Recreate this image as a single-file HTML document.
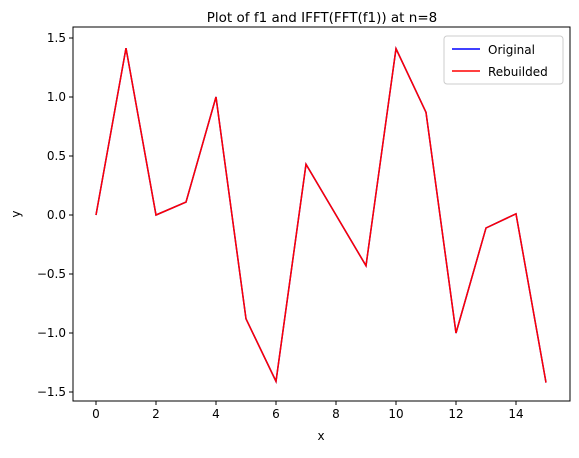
<!DOCTYPE html>
<html><head><meta charset="utf-8"><style>
body{margin:0;background:#fff;font-family:"Liberation Sans","DejaVu Sans",sans-serif;}
svg text{font-family:"DejaVu Sans","Liberation Sans",sans-serif;fill:#000;}
</style></head><body>
<svg id="chart" width="579" height="453">
<text x="322" y="22" font-size="13.5" text-anchor="middle">Plot of f1 and IFFT(FFT(f1)) at n=8</text>
<g id="axes"></g>
<g id="lines"></g>
<rect x="73" y="27" width="497" height="374" fill="none" stroke="#000" stroke-width="1"/>
<text x="321" y="440" font-size="12" text-anchor="middle">x</text>
<text x="20" y="214" font-size="12" text-anchor="middle" transform="rotate(-90 20 214)">y</text>
<g>
<rect x="444" y="36" width="119" height="48" rx="3" fill="#fff" stroke="#ccc"/>
<line x1="452" y1="49" x2="480" y2="49" stroke="blue" stroke-width="1.5"/>
<text x="488" y="54" font-size="12">Original</text>
<line x1="452" y1="71" x2="480" y2="71" stroke="red" stroke-width="1.5"/>
<text x="488" y="76" font-size="12">Rebuilded</text>
</g>
</svg>
<script>
const xs=[0,1,2,3,4,5,6,7,8,9,10,11,12,13,14,15];
const original=[0,1.414,0,0.11,1.0,-0.88,-1.41,0.43,0,-0.43,1.41,0.87,-1.0,-0.11,0.01,-1.42];
const rebuilt=[0,1.414,0,0.11,1.0,-0.88,-1.41,0.43,0,-0.43,1.41,0.87,-1.0,-0.11,0.01,-1.42];
const xTicks=[0,2,4,6,8,10,12,14];
const yTicks=[1.5,1.0,0.5,0.0,-0.5,-1.0,-1.5];
const NS="http://www.w3.org/2000/svg";
const sx=v=>96+v*30, sy=v=>215-v*118;
const axes=document.getElementById('axes'), lines=document.getElementById('lines');
function mk(t,a,p){const e=document.createElementNS(NS,t);for(const k in a)e.setAttribute(k,a[k]);p.appendChild(e);return e;}
xTicks.forEach(v=>{
 const l=mk('line',{x1:sx(v),x2:sx(v),y1:401,y2:405,stroke:'#000'},axes);
 
 
 const t=mk('text',{x:sx(v),y:418,'font-size':12,'text-anchor':'middle'},axes);t.textContent=v;
 
 
});
yTicks.forEach(v=>{
 const l=mk('line',{x1:69,x2:73,y1:sy(v),y2:sy(v),stroke:'#000'},axes);
 
 
 const t=mk('text',{x:66,y:sy(v)+4,'font-size':12,'text-anchor':'end'},axes);t.textContent=v.toFixed(1).replace('-','−');
 
 
});
function line(vals,c,name){
 const p=mk('polyline',{points:xs.map((x,i)=>sx(x)+','+sy(vals[i])).join(' '),fill:'none',stroke:c,'stroke-width':1.5},lines);
 
 
}
line(original,'blue','original-series');
line(rebuilt,'red','rebuilded-series');
</script>
</body></html>
